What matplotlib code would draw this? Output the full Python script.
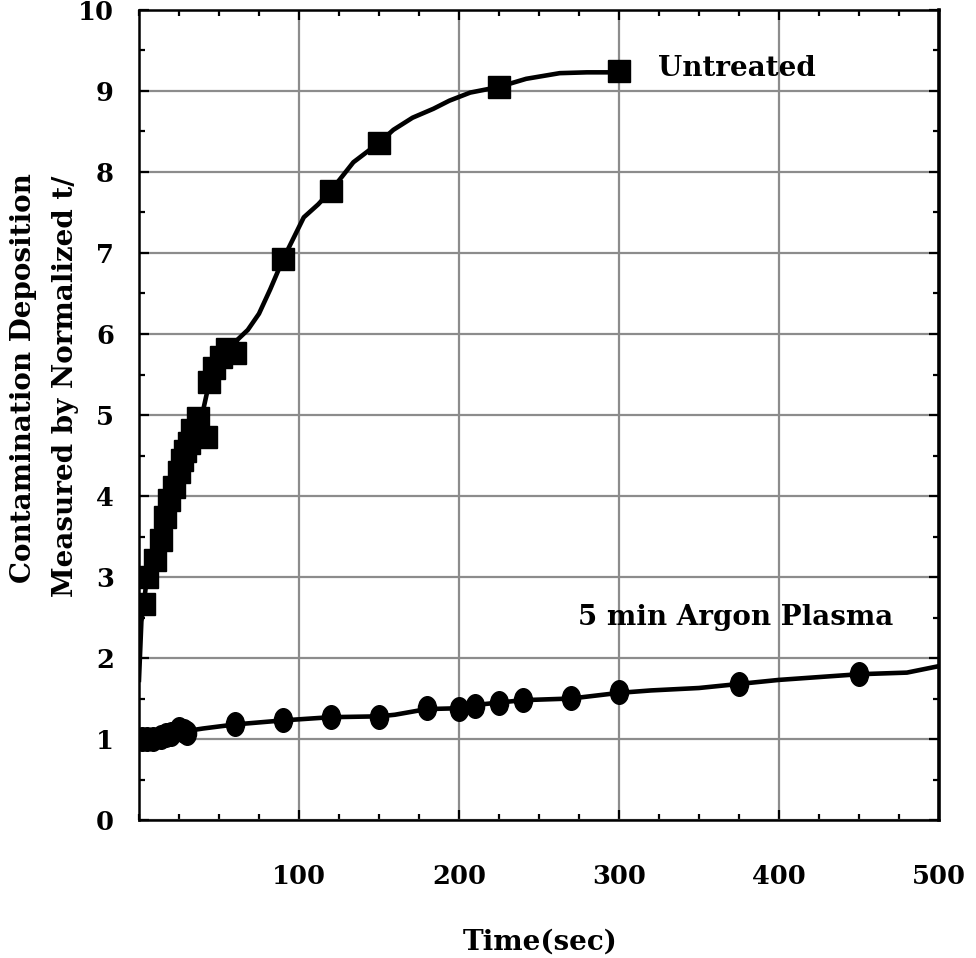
import numpy as np
import matplotlib
matplotlib.use('Agg')
import matplotlib.pyplot as plt
from matplotlib.path import Path
from matplotlib.transforms import Affine2D
from matplotlib.ticker import MultipleLocator

plt.rcParams['font.family'] = ['DejaVu Serif']

# untreated: marker points and the drawn curve
untreated_t = [3, 5, 10, 14, 16, 19, 22, 25, 27, 29, 31, 33, 37, 42, 44, 47, 51, 55, 60,
               90, 120, 150, 225, 300]
untreated_v = [2.67, 3.0, 3.21, 3.46, 3.74, 3.95, 4.11, 4.3, 4.45, 4.55, 4.65, 4.81, 4.96,
               4.73, 5.41, 5.58, 5.72, 5.82, 5.76, 6.92, 7.77, 8.36, 9.05, 9.25]
untreated_curve_t = [0, 1.5, 3, 5, 10, 14, 16, 19, 22, 25, 29, 33, 37, 40, 44, 47, 51, 55, 60,
                     68, 75, 82, 90, 103, 112, 120, 134, 150, 159, 171, 184, 194, 207, 225,
                     242, 263, 280, 300]
untreated_curve_v = [1.73, 2.45, 2.67, 3.0, 3.21, 3.46, 3.74, 3.95, 4.11, 4.3, 4.55, 4.81, 4.96,
                     5.05, 5.41, 5.58, 5.72, 5.82, 5.9, 6.05, 6.25, 6.55, 6.92, 7.44, 7.6, 7.77,
                     8.12, 8.36, 8.52, 8.67, 8.78, 8.88, 8.98, 9.05, 9.15, 9.22, 9.23, 9.23]

# 5 min argon plasma
plasma_t = [2, 5, 9, 14, 17, 20, 25, 28, 30, 60, 90, 120, 150, 180, 200, 210, 225, 240, 270,
            300, 375, 450]
plasma_v = [1.0, 1.0, 1.0, 1.02, 1.05, 1.06, 1.13, 1.1, 1.08, 1.18, 1.23, 1.27, 1.27, 1.38,
            1.37, 1.41, 1.45, 1.48, 1.51, 1.575, 1.68, 1.80]
plasma_curve_t = [0, 5, 10, 15, 20, 25, 30, 40, 60, 90, 120, 150, 160, 180, 200, 210, 225, 240,
                  270, 300, 320, 350, 375, 400, 450, 480, 500]
plasma_curve_v = [1.0, 1.0, 1.0, 1.0, 1.05, 1.08, 1.1, 1.13, 1.18, 1.23, 1.27, 1.28, 1.3, 1.37,
                  1.38, 1.42, 1.45, 1.48, 1.5, 1.57, 1.6, 1.63, 1.68, 1.73, 1.80, 1.82, 1.9]

x_major = [100, 200, 300, 400, 500]
y_major = list(range(0, 11))

# circles in the original are a bit taller than wide
ellipse = Path.unit_circle().transformed(Affine2D().scale(0.77, 1.0))

fig = plt.figure(figsize=(9.76, 9.58), dpi=100)
ax = fig.add_axes([0.1424, 0.1440, 0.8196, 0.8456])

ax.plot(untreated_curve_t, untreated_curve_v, color='black', lw=3.3, zorder=3)
ax.plot(untreated_t, untreated_v, ls='none', marker='s', ms=15.5, color='black', zorder=4)
ax.plot(plasma_curve_t, plasma_curve_v, color='black', lw=3.3, zorder=3)
ax.plot(plasma_t, plasma_v, ls='none', marker=ellipse, ms=17, color='black', zorder=4)

ax.text(374, 9.28, 'Untreated', fontsize=20, fontweight='bold', va='center', ha='center')
ax.text(373, 2.5, '5 min Argon Plasma', fontsize=20, fontweight='bold', va='center', ha='center')

ax.set_xlim(0, 500)
ax.set_ylim(0, 10)
ax.set_xticks(x_major)
ax.set_yticks(y_major)
ax.xaxis.set_minor_locator(MultipleLocator(25))
ax.yaxis.set_minor_locator(MultipleLocator(0.5))
ax.grid(True, which='major', color='#8c8c8c', lw=1.6, zorder=1)

ax.tick_params(which='both', direction='in', top=True, right=True, width=1.6, labelsize=18.5)
ax.tick_params(which='major', length=7.5)
ax.tick_params(which='minor', length=4.5)
ax.tick_params(axis='x', which='major', pad=32)
ax.tick_params(axis='y', which='major', pad=18)
for lab in ax.get_xticklabels() + ax.get_yticklabels():
    lab.set_fontweight('bold')

for side in ['left', 'bottom', 'top']:
    ax.spines[side].set_linewidth(1.8)
ax.spines['right'].set_linewidth(2.6)

fig.text(540 / 976, 1 - 942 / 958, 'Time(sec)', fontsize=20, fontweight='bold',
         ha='center', va='center')
fig.text(24 / 976, 1 - 378 / 958, 'Contamination Deposition', fontsize=20,
         fontweight='bold', rotation=90, ha='center', va='center')
fig.text(66 / 976, 1 - 386 / 958, 'Measured by Normalized t/', fontsize=20,
         fontweight='bold', rotation=90, ha='center', va='center')

fig.savefig('out.png', dpi=100)
